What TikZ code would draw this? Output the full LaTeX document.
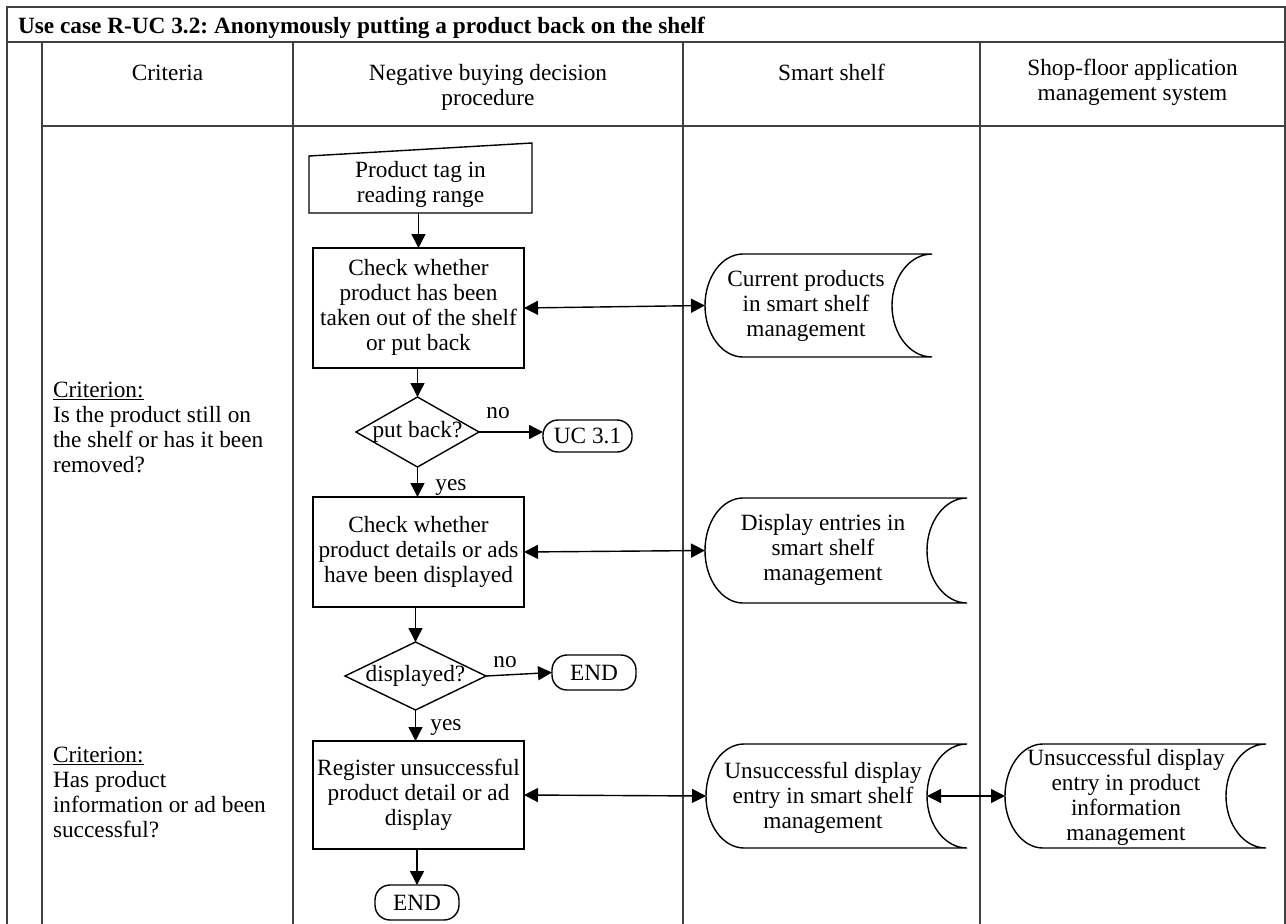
\documentclass[tikz,border=0pt]{standalone}
\usepackage{fontspec}
\setmainfont{Liberation Serif}
\usetikzlibrary{arrows.meta,calc}
\frenchspacing

% centred / left-aligned stacks of lines with a fixed 25pt pitch
\newcommand\tblines[1]{\begin{tabular}{@{}c@{}}#1\end{tabular}}
\newcommand\tblinesl[1]{\begin{tabular}{@{}l@{}}#1\end{tabular}}

% data-store outline: convex left side, concave right side
\newcommand\storeoutline[2]{%
  \draw[flow] ([xshift=38pt]#1.north west) -- (#1.north east)
    arc[start angle=90, end angle=270, x radius=40pt, y radius=#2pt]
    -- ([xshift=38pt]#1.south west)
    arc[start angle=270, end angle=90, x radius=38pt, y radius=#2pt] -- cycle;}

\tikzset{
  every node/.style={inner sep=0pt, outer sep=0pt, font=\fontsize{23.3}{25}\selectfont},
  grid/.style={line width=1.8pt, draw=black!75},
  flow/.style={line width=1.4pt, draw=black},
  tip/.tip={Triangle[length=14pt,width=14pt]},
  arr/.style={flow, -tip},
  darr/.style={flow, tip-tip},
  proc/.style={draw, line width=1.4pt, minimum width=211pt},
  term/.style={draw, line width=1.4pt, rounded corners=15pt},
  bare/.style={draw=none},
}

\begin{document}
\begin{tikzpicture}[x=1pt, y=-1pt]
\useasboundingbox (0,0) rectangle (1286,924);

% table frame
\draw[grid] (7,924) -- (7,7) -- (1285,7) -- (1285,924);
\draw[grid] (7,42) -- (1285,42);
\draw[grid] (42,42) -- (42,924);
\draw[grid] (42,126) -- (1285,126);
\foreach \x in {293,683,980} \draw[grid] (\x,42) -- (\x,924);

% title and column headings
\node[anchor=base west, font=\bfseries\fontsize{23.3}{25}\selectfont] (title) at (18,33.5)
  {Use case R-UC 3.2: Anonymously putting a product back on the shelf};
\node (hcrit) at (167.5,75) {\tblines{Criteria}};
\node (hproc) at (488,87.5) {\tblines{Negative buying decision\\procedure}};
\node (hshelf) at (831.5,75) {\tblines{Smart shelf}};
\node (hsys) at (1132.5,82.5) {\tblines{Shop-floor application\\management system}};

% criteria
\node[anchor=west] (crit1) at (53,429.5)
  {\tblinesl{\underline{Criterion:}\\Is the product still on\\the shelf or has it been\\removed?}};
\node[anchor=west] (crit2) at (53,794.5)
  {\tblinesl{\underline{Criterion:}\\Has product\\information or ad been\\successful?}};

% procedure
\node[bare, minimum width=223pt, minimum height=57pt] (tag) at (420.5,184.5)
  {\tblines{Product tag in\\reading range}};
\draw[flow] (tag.north west) -- ([yshift=13pt]tag.north east) -- (tag.south east)
  -- (tag.south west) -- cycle;

\node[proc, minimum height=120pt] (box1) at (418.5,308)
  {\tblines{Check whether\\product has been\\taken out of the shelf\\or put back}};
\node[bare, minimum width=123pt, minimum height=70pt] (dia1) at (417.5,432) {\tblines{put back?}};
\node[term, minimum width=89pt, minimum height=32pt] (uc31) at (587.5,436) {UC 3.1};
\node[proc, minimum height=110pt] (box2) at (418.5,552)
  {\tblines{Check whether\\product details or ads\\have been displayed}};
\node[bare, minimum width=141pt, minimum height=68pt] (dia2) at (415.5,676) {\tblines{displayed?}};
\node[term, minimum width=84pt, minimum height=35pt] (end1) at (594,672.5) {END};
\node[proc, minimum height=108pt] (box3) at (418.5,795)
  {\tblines{Register unsuccessful\\product detail or ad\\display}};
\node[term, minimum width=84pt, minimum height=35pt] (end2) at (417,902.5) {END};

\foreach \d in {dia1,dia2}
  \draw[flow] (\d.north) -- (\d.east) -- (\d.south) -- (\d.west) -- cycle;

% data stores
\node[bare, minimum width=227pt, minimum height=103pt] (s1) at (818.5,305.5) {};
\storeoutline{s1}{51.5}
\node (s1t) at (806,306) {\tblines{Current products\\in smart shelf\\management}};

\node[bare, minimum width=262pt, minimum height=105pt] (s2) at (836,550.5) {};
\storeoutline{s2}{52.5}
\node (s2t) at (823,550) {\tblines{Display entries in\\smart shelf\\management}};

\node[bare, minimum width=261pt, minimum height=104pt] (s3) at (836.5,796) {};
\storeoutline{s3}{52}
\node (s3t) at (823,798) {\tblines{Unsuccessful display\\entry in smart shelf\\management}};

\node[bare, minimum width=261pt, minimum height=104pt] (s4) at (1135.5,796) {};
\storeoutline{s4}{52}
\node (s4t) at (1126,797.5) {\tblines{Unsuccessful display\\entry in product\\information\\management}};
\coordinate (s3c) at ([xshift=-40pt]s3.east);

% flow connectors
\draw[arr] (box1.north |- tag.south) -- (box1.north);
\draw[arr] (dia1.north |- box1.south) -- (dia1.north);
\draw[arr] (dia1.east) -- (dia1.east -| uc31.west);
\draw[arr] (dia1.south) -- (dia1.south |- box2.north);
\draw[arr] (dia2.north |- box2.south) -- (dia2.north);
\draw[arr] (dia2.east) -- (end1.west);
\draw[arr] (dia2.south) -- (dia2.south |- box3.north);
\draw[arr] (end2.north |- box3.south) -- (end2.north);

% data exchange
\draw[darr] (box1.east) -- (s1.west);
\draw[darr] (box2.east) -- (s2.west);
\draw[darr] (box3.east) -- (s3.west);
\draw[darr] (s3c) -- (s4.west);

% branch labels
\node (no1) at (498,413) {\tblines{no}};
\node (yes1) at (451,485) {\tblines{yes}};
\node (no2) at (505,662) {\tblines{no}};
\node (yes2) at (446,725) {\tblines{yes}};
\end{tikzpicture}
\end{document}
